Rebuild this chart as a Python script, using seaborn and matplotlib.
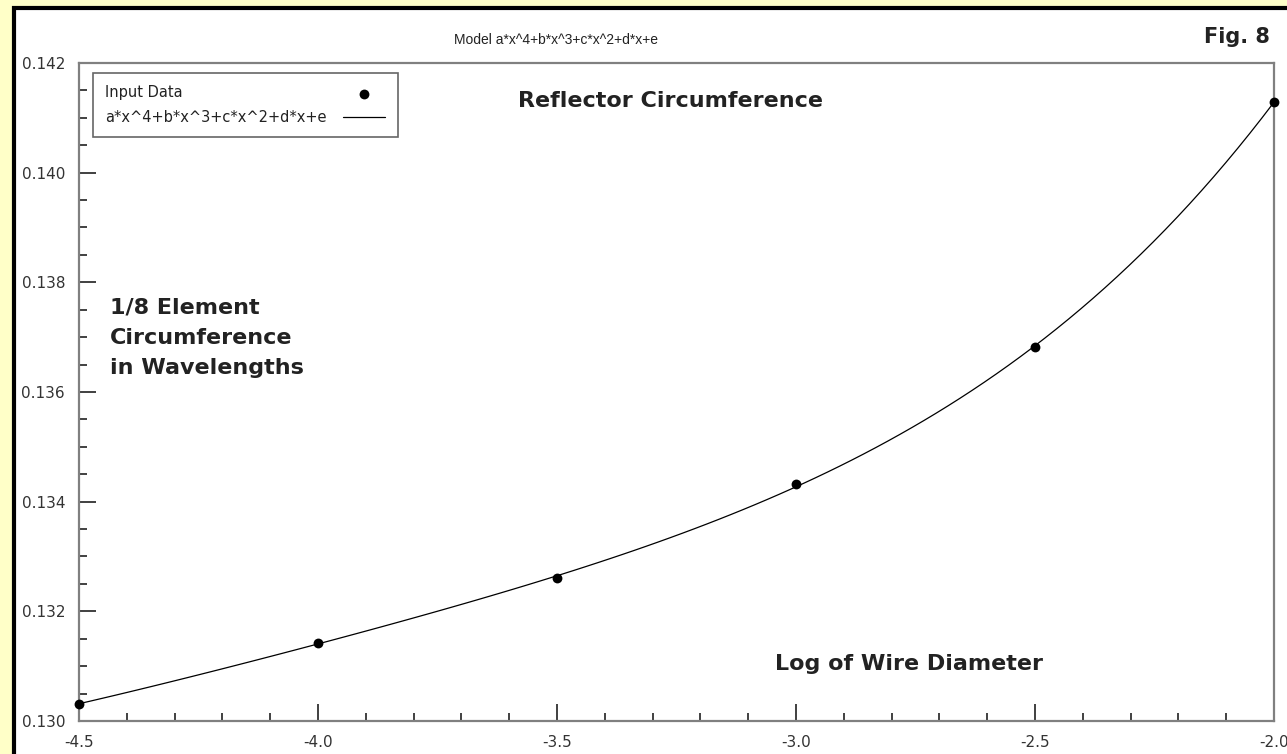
import numpy as np
import pandas as pd
import matplotlib
matplotlib.use("Agg")
import matplotlib.pyplot as plt
from matplotlib.patches import Rectangle
from matplotlib.ticker import MultipleLocator, FormatStrFormatter
import seaborn as sns

# Данные
log_diameter = [-4.5, -4.0, -3.5, -3.0, -2.5, -2.0]
circumference = [0.13031, 0.13143, 0.13260, 0.13432, 0.13682, 0.14129]

W, H = 1287, 754


def plot_reflector_circumference():
    df = pd.DataFrame({"x": log_diameter, "y": circumference})

    sns.set_style("ticks")
    plt.rcParams["font.family"] = ["DejaVu Sans"]

    fig = plt.figure(figsize=(W / 100, H / 100), dpi=100)
    fig.patch.set_facecolor("#FFFFC8")

    # белая панель с чёрной рамкой слева и сверху
    fig.patches.append(Rectangle((13.5 / W, -0.2), 1.5, 1.2 - 8.5 / H,
                                 transform=fig.transFigure, facecolor="white",
                                 edgecolor="black", linewidth=3, zorder=-5))

    ax = fig.add_axes([79 / W, 1 - 721 / H, (1274 - 79) / W, (721 - 63) / H])
    ax.set_zorder(2)
    ax.set_facecolor("white")

    # точки исходных данных
    sns.scatterplot(x="x", y="y", data=df, color="black", s=50,
                    edgecolor="black", linewidth=0, label="Input Data",
                    ax=ax, zorder=5, clip_on=False)

    # аппроксимация полиномом 4-й степени
    sns.regplot(x="x", y="y", data=df, order=4, ci=None, scatter=False,
                ax=ax, line_kws={"color": "black", "linewidth": 0.9})
    ax.lines[-1].set_label("a*x^4+b*x^3+c*x^2+d*x+e")

    ax.set_xlim(-4.5, -2.0)
    ax.set_ylim(0.130, 0.142)
    ax.set_xlabel("")
    ax.set_ylabel("")
    ax.xaxis.set_major_locator(MultipleLocator(0.5))
    ax.xaxis.set_minor_locator(MultipleLocator(0.1))
    ax.yaxis.set_major_locator(MultipleLocator(0.002))
    ax.yaxis.set_minor_locator(MultipleLocator(0.0005))
    ax.xaxis.set_major_formatter(FormatStrFormatter("%.1f"))
    ax.yaxis.set_major_formatter(FormatStrFormatter("%.3f"))
    ax.tick_params(which="major", direction="in", length=12, width=1.2,
                   color="#202020", labelsize=11, labelcolor="#333333", pad=10)
    ax.tick_params(which="minor", direction="in", length=6, width=1.2,
                   color="#202020")
    for sp in ax.spines.values():
        sp.set_visible(True)
        sp.set_color("#808080")
        sp.set_linewidth(1.6)

    handles, labels = ax.get_legend_handles_labels()
    leg = ax.legend(handles, labels, loc="upper left",
                    bbox_to_anchor=((93 - 79) / 1195, (721 - 73) / 658),
                    borderaxespad=0, markerfirst=False, fancybox=False,
                    frameon=True, fontsize=10.5, handlelength=2.9,
                    handletextpad=1.1, borderpad=0.85, labelspacing=0.65)
    leg.get_frame().set_edgecolor("#404040")
    leg.get_frame().set_linewidth(1.2)
    for t in leg.get_texts():
        t.set_color("#222222")

    # подписи легенды слева, маркеры справа
    fig.canvas.draw()
    renderer = fig.canvas.get_renderer()
    widths = [t.get_window_extent(renderer).width for t in leg.get_texts()]
    rows = leg._legend_handle_box.get_children()[0].get_children()
    for row, w in zip(rows, widths):
        row.sep += (max(widths) - w) * 72 / fig.dpi

    fig.text(556 / W, 1 - 40 / H, "Model a*x^4+b*x^3+c*x^2+d*x+e",
             ha="center", va="center", fontsize=10, color="#222222",
             family=["Liberation Sans", "DejaVu Sans"])
    fig.text(1270 / W, 1 - 37 / H, "Fig. 8", ha="right", va="center",
             fontsize=15, fontweight="bold", color="#222222")

    ax.text((670 - 79) / 1195, (721 - 101) / 658, "Reflector Circumference",
            transform=ax.transAxes, ha="center", va="center",
            fontsize=16, fontweight="bold", color="#222222")
    ax.text((110 - 79) / 1195, (721 - 338) / 658,
            "1/8 Element\nCircumference\nin Wavelengths",
            transform=ax.transAxes, ha="left", va="center", linespacing=1.65,
            fontsize=16, fontweight="bold", color="#222222")
    ax.text((909 - 79) / 1195, (721 - 664) / 658, "Log of Wire Diameter",
            transform=ax.transAxes, ha="center", va="center",
            fontsize=16, fontweight="bold", color="#222222")

    fig.savefig("out.png", dpi=100, facecolor=fig.get_facecolor())
    plt.close(fig)


if __name__ == "__main__":
    plot_reflector_circumference()
